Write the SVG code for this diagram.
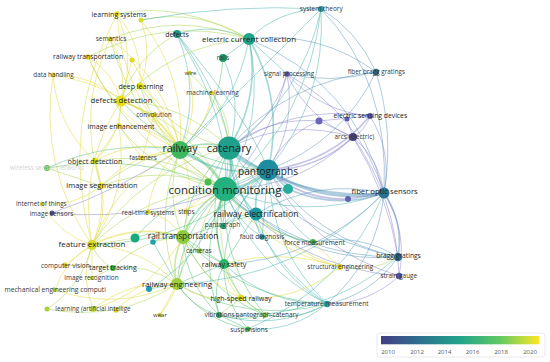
<svg xmlns="http://www.w3.org/2000/svg" width="550" height="362" viewBox="0 0 550 362">
<style>
.l{font-family:"Open Sans","Noto Sans",sans-serif;text-anchor:middle;fill:#1e1e1e}
.s{fill:#383838}
.f{fill:#d4d4d4}
#connectors path{fill:none;stroke-linecap:round}
.y{stroke:#e3dc45;stroke-opacity:.55}
.yg{stroke:#a9d34f;stroke-opacity:.5}
.g{stroke:#4dbd75;stroke-opacity:.48}
.t{stroke:#3aaea6;stroke-opacity:.46}
.b{stroke:#4b8fb3;stroke-opacity:.45}
.p{stroke:#7f7bc6;stroke-opacity:.45}
.w2{stroke-width:1.7}
.w3{stroke-width:2.8}
.tick{font-family:"Open Sans","Noto Sans",sans-serif;font-size:6px;fill:#555;text-anchor:middle}
</style>
<defs>
<linearGradient id="vir" x1="0" y1="0" x2="1" y2="0">
<stop offset="0" stop-color="#433e85"/>
<stop offset="0.25" stop-color="#2c718e"/>
<stop offset="0.5" stop-color="#21a38b"/>
<stop offset="0.75" stop-color="#5ec962"/>
<stop offset="1" stop-color="#fde725"/>
</linearGradient>
</defs>
<rect width="550" height="362" fill="#fff"/>
<g id="connectors" stroke-width="1">
<path class="t w3" d="M225 189Q235.2 169.3 229 148"/>
<path class="t w3" d="M225 189Q250.3 188.1 268 170"/>
<path class="g w3" d="M225 189Q210.3 160.5 180 150"/>
<path class="t w3" d="M229 148Q244.1 166.8 268 170"/>
<path class="g w2" d="M229 148Q204.1 139.2 180 150"/>
<path class="t w2" d="M180 150Q220 177.6 268 170"/>
<path class="t w2" d="M225 189Q235.5 207.7 256 214"/>
<path class="t w2" d="M229 148Q229.3 186.4 256 214"/>
<path class="t w2" d="M268 170Q253.2 189.6 256 214"/>
<path class="t w2" d="M229 148Q260.8 97.5 249 39"/>
<path class="t w2" d="M268 170Q284.7 100.7 249 39"/>
<path class="t" d="M225 189Q267 118.8 249 39"/>
<path class="t" d="M180 150Q236.7 108.3 249 39"/>
<path class="g w2" d="M225 189Q194.4 204.6 183 237"/>
<path class="yg" d="M180 150Q164.1 194.1 183 237"/>
<path class="g" d="M229 148Q188.2 183.3 183 237"/>
<path class="g" d="M225 189Q182 226.9 177 284"/>
<path class="yg" d="M180 150Q151.7 216.4 177 284"/>
<path class="g w2" d="M225 189Q209.5 226.3 224 264"/>
<path class="g" d="M229 148Q203.3 205 224 264"/>
<path class="t" d="M268 170Q227.2 208.2 224 264"/>
<path class="yg" d="M225 189Q147.3 190.4 92 245"/>
<path class="y" d="M180 150Q117 179.9 92 245"/>
<path class="y w2" d="M180 150Q160.3 113.7 121 101"/>
<path class="yg" d="M225 189Q190.6 124.2 121 101"/>
<path class="yg" d="M229 148Q184.4 102.9 121 101"/>
<path class="b w3" d="M268 170Q321.4 204.7 384 193"/>
<path class="t" d="M225 189Q303.7 222.8 384 193"/>
<path class="b w2" d="M229 148Q297.5 201.5 384 193"/>
<path class="b w2" d="M288 189Q335.2 210.2 384 193"/>
<path class="b" d="M268 170Q315.6 239.5 398 257"/>
<path class="b" d="M229 148Q291.7 236.3 398 257"/>
<path class="b w2" d="M384 193Q403.8 222.2 398 257"/>
<path class="p" d="M384 193Q408.1 231.5 399 276"/>
<path class="p" d="M268 170Q312.3 249.2 399 276"/>
<path class="t" d="M225 189Q253 266.9 327 304"/>
<path class="t" d="M268 170Q270.7 248.8 327 304"/>
<path class="b" d="M327 304Q377.7 259.9 384 193"/>
<path class="t" d="M229 148Q302.8 96.9 321 9"/>
<path class="t" d="M268 170Q326.7 100.1 321 9"/>
<path class="t" d="M249 39Q279 9.6 321 9"/>
<path class="t" d="M225 189Q309 118.2 321 9"/>
<path class="b" d="M249 39Q355 82.3 384 193"/>
<path class="b" d="M249 39Q319.1 30.1 376 72"/>
<path class="b" d="M229 148Q287.3 80.6 376 72"/>
<path class="b" d="M268 170Q341.6 142.6 376 72"/>
<path class="b" d="M376 72Q394.5 131.5 384 193"/>
<path class="p" d="M268 170Q296.7 125.8 287 74"/>
<path class="p" d="M229 148Q272.8 122.6 287 74"/>
<path class="p w2" d="M268 170Q329.8 163.4 370 116"/>
<path class="p w2" d="M268 170Q317.1 170.5 353 137"/>
<path class="p" d="M229 148Q288.8 117.7 353 137"/>
<path class="p" d="M225 189Q299.4 188.6 353 137"/>
<path class="p" d="M229 148Q293.1 103.8 370 116"/>
<path class="p" d="M353 137Q365.7 130 370 116"/>
<path class="p" d="M353 137Q379.7 158.8 384 193"/>
<path class="p" d="M370 116Q392.4 151.7 384 193"/>
<path class="p" d="M319 121Q283.7 135.3 268 170"/>
<path class="p" d="M319 121Q268.6 116.5 229 148"/>
<path class="p" d="M353 137Q396.9 199.6 399 276"/>
<path class="p" d="M353 137Q387.5 192.5 398 257"/>
<path class="p" d="M287 74Q320.1 111.6 370 116"/>
<path class="p" d="M287 74Q307.4 118.7 353 137"/>
<path class="p" d="M287 74Q359.3 114.1 384 193"/>
<path class="p w2" d="M268 170Q302.2 200.5 348 199"/>
<path class="t w2" d="M225 189Q256.5 198.5 288 189"/>
<path class="b" d="M256 214Q315.8 177.9 384 193"/>
<path class="g" d="M256 214Q278.9 239.4 313 242"/>
<path class="g" d="M225 189Q258.4 233.1 313 242"/>
<path class="t" d="M268 170Q276.1 215 313 242"/>
<path class="t" d="M256 214Q273.5 273.2 327 304"/>
<path class="y" d="M225 189Q266.9 251 340 267"/>
<path class="y" d="M224 264Q282.5 248.1 340 267"/>
<path class="b" d="M313 242Q358.5 232.5 398 257"/>
<path class="p" d="M327 304Q368.6 304.4 399 276"/>
<path class="b" d="M327 304Q371.9 294.7 398 257"/>
<path class="yg" d="M340 267Q371 273.6 398 257"/>
<path class="t" d="M224 264Q267.5 304.6 327 304"/>
<path class="g" d="M177 284Q248 324 327 304"/>
<path class="g" d="M183 237Q241.6 299.3 327 304"/>
<path class="t" d="M219 315Q275.2 331.1 327 304"/>
<path class="g" d="M265 315Q298.2 321.9 327 304"/>
<path class="t" d="M248 329Q292.5 332.3 327 304"/>
<path class="g" d="M225 189Q219.8 260 265 315"/>
<path class="g" d="M224 264Q234.3 297.7 265 315"/>
<path class="g" d="M224 264Q211.3 288.5 219 315"/>
<path class="g" d="M224 264Q223 301.3 248 329"/>
<path class="g" d="M177 284Q191.8 307.9 219 315"/>
<path class="g" d="M183 237Q185.4 283.2 219 315"/>
<path class="g" d="M225 189Q196.8 250.8 219 315"/>
<path class="y" d="M183 237Q199.8 279.1 241 298"/>
<path class="y" d="M177 284Q206.2 303.8 241 298"/>
<path class="y" d="M224 264Q225.7 284.4 241 298"/>
<path class="yg" d="M225 189Q211.2 246.7 241 298"/>
<path class="g" d="M177 284Q203.5 320.7 248 329"/>
<path class="t" d="M225 189Q216.6 207.1 223 226"/>
<path class="t" d="M256 214Q237.1 213.4 223 226"/>
<path class="t" d="M225 189Q233.9 220.4 262 237"/>
<path class="t" d="M256 214Q254.4 225.7 262 237"/>
<path class="yg" d="M183 237Q188.2 247.2 199 251"/>
<path class="yg" d="M225 189Q199.6 214.8 199 251"/>
<path class="y" d="M225 189Q200.9 192.7 186 212"/>
<path class="y" d="M183 237Q189.5 225 186 212"/>
<path class="y" d="M183 237Q170.5 217.5 148 212"/>
<path class="y" d="M180 150Q151.6 174.6 148 212"/>
<path class="g" d="M183 237Q159.2 227.9 135 238"/>
<path class="t" d="M183 237Q167 234 153 242"/>
<path class="g" d="M225 189Q170.2 195.5 135 238"/>
<path class="g" d="M225 189L208 182"/>
<path class="yg w2" d="M183 237Q170.6 259.3 177 284"/>
<path class="t" d="M177 284L149 289"/>
<path class="yg" d="M183 237Q141.8 238.5 113 268"/>
<path class="yg" d="M177 284Q148.2 263.2 113 268"/>
<path class="yg" d="M92 245Q97.9 260.7 113 268"/>
<path class="y" d="M177 284Q142.3 247.5 92 245"/>
<path class="y w2" d="M183 237Q135.9 222.8 92 245"/>
<path class="y" d="M177 284Q130 279.7 93 309"/>
<path class="y" d="M177 284Q141.3 284.8 116 310"/>
<path class="yg" d="M177 284Q117 322.5 47 309"/>
<path class="y" d="M92 245Q79.7 277.2 93 309"/>
<path class="y" d="M92 245L65 265"/>
<path class="y" d="M92 245L92 278"/>
<path class="y" d="M92 245Q64.5 260.1 55 290"/>
<path class="y" d="M92 245Q108.3 217.3 101 186"/>
<path class="y" d="M101 186L95 161"/>
<path class="y" d="M95 161Q120 136.2 121 101"/>
<path class="y" d="M121 101L140 86"/>
<path class="y" d="M121 101L119 126"/>
<path class="y" d="M121 101L154 115"/>
<path class="y" d="M121 101Q113.3 72.4 88 57"/>
<path class="y" d="M121 101Q127.9 67.8 110 39"/>
<path class="y" d="M121 101Q136.4 56.7 117 14"/>
<path class="y" d="M140 86Q142.9 45.4 117 14"/>
<path class="y" d="M140 86Q153.7 53.2 141 20"/>
<path class="y" d="M180 150Q172.8 110 140 86"/>
<path class="y" d="M180 150Q186.5 77.2 141 20"/>
<path class="y" d="M180 150Q167.2 80.5 110 39"/>
<path class="y" d="M180 150Q154.3 125.8 119 126"/>
<path class="y" d="M180 150Q135.3 138.5 95 161"/>
<path class="y" d="M180 150L142 158"/>
<path class="y" d="M180 150L154 115"/>
<path class="y" d="M180 150Q133.3 152.2 101 186"/>
<path class="yg" d="M225 189Q162.4 162.7 101 186"/>
<path class="yg" d="M225 189Q165.6 149 95 161"/>
<path class="y" d="M180 150Q131.5 87.1 53 75"/>
<path class="y" d="M121 101Q92.2 74.4 53 75"/>
<path class="y" d="M88 57Q115.4 121.9 180 150"/>
<path class="y" d="M53 75Q56.8 126.4 95 161"/>
<path class="y" d="M53 75Q38.5 167.8 92 245"/>
<path class="y" d="M117 14Q58.3 124.5 92 245"/>
<path class="y" d="M110 39Q76.1 110.7 101 186"/>
<path class="y" d="M180 150Q199.9 113.3 189 73"/>
<path class="y" d="M180 150Q207.4 127.9 212 93"/>
<path class="yg" d="M229 148Q231.5 117.1 212 93"/>
<path class="yg" d="M229 148Q224 102.5 189 73"/>
<path class="t" d="M229 148Q244 101.8 223 58"/>
<path class="g" d="M180 150Q219.9 112.6 223 58"/>
<path class="t" d="M249 39L223 58"/>
<path class="t" d="M249 39Q214 22.1 177 34"/>
<path class="t" d="M177 34Q201.7 92.6 180 150"/>
<path class="t" d="M177 34Q232 121.1 225 189"/>
<path class="t" d="M177 34Q225.8 101.4 229 148"/>
<path class="yg" d="M177 34Q135.6 56.3 121 101"/>
<path class="t" d="M177 34Q249.7 120.2 268 170"/>
<path class="yg" d="M249 39Q172.6 44.4 121 101"/>
<path class="yg" d="M249 39Q178 0.1 117 14"/>
<path class="yg" d="M141 20Q198.8 7.9 249 39"/>
<path class="t" d="M321 9Q278.7 51.3 180 150"/>
<path class="y" d="M148 212Q191.1 215.9 225 189"/>
<path class="y" d="M186 212Q195.4 179.8 180 150"/>
<path class="y" d="M42 204Q58.8 234.5 92 245"/>
<path class="y" d="M42 204Q75.1 206.8 101 186"/>
<path class="p" d="M52 213Q166.5 223.9 268 170"/>
<path class="p" d="M52 213Q120 190 180 150"/>
<path class="g" d="M47 168Q110.8 139 180 150"/>
<path class="g" d="M47 168Q139.2 151.8 225 189"/>
<path class="yg" d="M47 168L101 186"/>
<path class="yg" d="M47 309Q82.3 286 92 245"/>
<path class="yg" d="M65 265L113 268"/>
<path class="yg" d="M92 278L113 268"/>
<path class="y" d="M55 290Q117.2 311.4 177 284"/>
<path class="y" d="M93 309Q152.4 291 183 237"/>
<path class="y" d="M160 315L177 284"/>
<path class="y" d="M160 315Q187.1 280.6 183 237"/>
<path class="t" d="M149 289Q207 254.2 225 189"/>
<path class="g" d="M199 251L224 264"/>
<path class="y" d="M92 245Q129.3 190.9 119 126"/>
<path class="y" d="M95 161L119 126"/>
<path class="y" d="M119 126L142 158"/>
<path class="y" d="M154 115L142 158"/>
<path class="y" d="M92 245Q110.3 203.6 95 161"/>
<path class="y" d="M121 101Q77.7 167.2 92 245"/>
<path class="y" d="M132 60L180 150"/>
<path class="y" d="M132 60L121 101"/>
<path class="g" d="M268 170Q212.1 186.5 183 237"/>
<path class="g" d="M268 170Q199.7 208.8 177 284"/>
<path class="t w2" d="M268 170L288 189"/>
<path class="g" d="M229 148L208 182"/>
<path class="t" d="M268 170L223 226"/>
<path class="t" d="M268 170L262 237"/>
<path class="t" d="M229 148L223 226"/>
<path class="g" d="M256 214L224 264"/>
<path class="g" d="M256 214L183 237"/>
<path class="b" d="M256 214Q318.4 263.9 398 257"/>
<path class="b" d="M225 189Q297.9 257.6 398 257"/>
<path class="p" d="M225 189Q294.6 267.3 399 276"/>
<path class="t" d="M229 148Q246.8 245.6 327 304"/>
<path class="yg" d="M92 245Q141.1 169.1 229 148"/>
<path class="g" d="M92 245Q195 242.7 268 170"/>
<path class="yg" d="M101 186Q157.4 141.4 229 148"/>
<path class="g" d="M121 101Q180.7 164.9 268 170"/>
<path class="yg" d="M140 86Q172.1 134.8 229 148"/>
<path class="yg" d="M140 86Q161.9 154.5 225 189"/>
<path class="yg" d="M119 126Q159.4 178.7 225 189"/>
<path class="y" d="M117 14Q121.3 94.6 180 150"/>
<path class="yg" d="M110 39Q137.5 137 225 189"/>
<path class="yg" d="M88 57Q130.1 150.4 225 189"/>
<path class="t" d="M287 74L249 39"/>
<path class="p" d="M370 116L319 121"/>
<path class="p" d="M319 121L353 137"/>
<path class="p" d="M347 119L353 137"/>
<path class="p w2" d="M348 199L384 193"/>
<path class="yg" d="M241 298L219 315"/>
<path class="yg" d="M241 298L265 315"/>
<path class="g" d="M265 315Q242 322 219 315"/>
<path class="g" d="M248 329L219 315"/>
<path class="g" d="M224 264L177 284"/>
<path class="g" d="M183 237L224 264"/>
<path class="yg" d="M135 238L92 245"/>
<path class="t" d="M153 242L177 284"/>
<path class="g" d="M183 237Q208.4 292.4 265 315"/>
<path class="b" d="M224 264Q318.2 260.5 384 193"/>
<path class="t" d="M248 329Q343.2 288.2 384 193"/>
<path class="t" d="M219 315Q320.1 321.8 398 257"/>
<path class="t" d="M177 284Q298.7 279.9 384 193"/>
<path class="yg" d="M249 39Q179.5 11.2 110 39"/>
<path class="yg" d="M249 39Q164.9 15.8 88 57"/>
<path class="t" d="M321 9Q230.3 3.7 141 20"/>
<path class="y" d="M241 298Q296.7 302.3 340 267"/>
<path class="y" d="M313 242L340 267"/>
<path class="y" d="M256 214Q291 252 340 267"/>
<path class="b" d="M376 72Q357 30 321 9"/>
<path class="b" d="M376 72Q331 84 287 74"/>
<path class="p" d="M225 189Q270 140 287 74"/>
<path class="b" d="M384 193Q390 80 321 9"/>
</g>
<g id="n-rail-transportation-2"><circle cx="132" cy="60" r="2.5" fill="#e5d81f"/></g>
<g id="n-learning-systems-2"><circle cx="141" cy="20" r="2.5" fill="#d9d92c"/></g>
<g id="n-electric-sensing-2"><circle cx="347" cy="119" r="2.5" fill="#5c5aae"/></g>
<g id="n-unlabeled-319"><circle cx="319" cy="121" r="3.5" fill="#6c66b8"/></g>
<g id="n-unlabeled-348"><circle cx="348" cy="199" r="3" fill="#5e62b2"/></g>
<g id="n-unlabeled-288"><circle cx="288" cy="189" r="5" fill="#27ae9b"/></g>
<g id="n-unlabeled-208"><circle cx="208" cy="182" r="3.5" fill="#49bb52"/></g>
<g id="n-unlabeled-135"><circle cx="135" cy="238" r="4.5" fill="#1aa97a"/></g>
<g id="n-unlabeled-153"><circle cx="153" cy="242" r="2.8" fill="#20a3ad"/></g>
<g id="n-unlabeled-149"><circle cx="149" cy="289" r="3" fill="#1f9bb3"/></g>
<g id="n-unlabeled-imc"><circle cx="47" cy="309" r="2.5" fill="#a7d236"/></g>
<g id="n-learning-ai-2"><circle cx="116" cy="310" r="2.8" fill="#e0d11f"/></g>
<g id="n-wireless-sensor-networks"><circle cx="47" cy="168" r="3" fill="#5ec03e"/><text class="l f" x="47" y="170.2" font-size="6.3">wireless sensor networks</text></g>
<g id="n-learning-systems"><circle cx="117" cy="14" r="2.8" fill="#ebdf1c"/><text class="l" x="119" y="16.5" font-size="7">learning systems</text></g>
<g id="n-semantics"><circle cx="110" cy="39" r="2.5" fill="#ebdf1c"/><text class="l s" x="111" y="41.3" font-size="6.5">semantics</text></g>
<g id="n-railway-transportation"><circle cx="88" cy="57" r="2.8" fill="#ebdf1c"/><text class="l" x="88" y="59.4" font-size="6.8">railway transportation</text></g>
<g id="n-data-handling"><circle cx="53" cy="75" r="2.5" fill="#ebdf1c"/><text class="l s" x="53.5" y="77.3" font-size="6.3">data handling</text></g>
<g id="n-deep-learning"><circle cx="140" cy="86" r="3.5" fill="#ebdf1c"/><text class="l" x="141" y="88.5" font-size="7">deep learning</text></g>
<g id="n-defects-detection"><circle cx="121" cy="101" r="5.5" fill="#e9dd1c"/><text class="l" x="121.5" y="102.7" font-size="7.7">defects detection</text></g>
<g id="n-convolution"><circle cx="154" cy="115" r="2.5" fill="#e3d91f"/><text class="l s" x="154" y="117.3" font-size="6.5">convolution</text></g>
<g id="n-image-enhancement"><circle cx="119" cy="126" r="2.8" fill="#ebdf1c"/><text class="l" x="121" y="128.5" font-size="7">image enhancement</text></g>
<g id="n-object-detection"><circle cx="95" cy="161" r="3.2" fill="#ebdf1c"/><text class="l" x="95" y="163.5" font-size="7.3">object detection</text></g>
<g id="n-fasteners"><circle cx="142" cy="158" r="2.5" fill="#e3d91f"/><text class="l s" x="143" y="160.2" font-size="6.3">fasteners</text></g>
<g id="n-defects"><circle cx="177" cy="34" r="4" fill="#1e998d"/><text class="l" x="177" y="36.5" font-size="7">defects</text></g>
<g id="n-rails"><circle cx="223" cy="58" r="4" fill="#1d9a66"/><text class="l s" x="223" y="60.2" font-size="6.4">rails</text></g>
<g id="n-wire"><circle cx="189" cy="73" r="2.3" fill="#e3d91f"/><text class="l s" x="190.5" y="75.1" font-size="6">wire</text></g>
<g id="n-machine-learning"><circle cx="212" cy="93" r="2.3" fill="#e3d91f"/><text class="l s" x="212.5" y="95.3" font-size="6.5">machine learning</text></g>
<g id="n-signal-processing"><circle cx="287" cy="74" r="2.8" fill="#5a55a8"/><text class="l s" x="289" y="76.2" font-size="6.3">signal processing</text></g>
<g id="n-system-theory"><circle cx="321" cy="9" r="3" fill="#22978f"/><text class="l s" x="321.3" y="11.3" font-size="6.5">system theory</text></g>
<g id="n-fiber-bragg-gratings"><circle cx="376" cy="72" r="3.2" fill="#2f688e"/><text class="l s" x="376.3" y="74.2" font-size="6.3">fiber bragg gratings</text></g>
<g id="n-electric-sensing-devices"><circle cx="370" cy="116" r="3" fill="#5f5bb0"/><text class="l" x="370.3" y="118.4" font-size="6.8">electric sensing devices</text></g>
<g id="n-arcs-electric"><circle cx="353" cy="137" r="4" fill="#463f86"/><text class="l s" x="354.3" y="139.3" font-size="6.5">arcs (electric)</text></g>
<g id="n-image-segmentation"><circle cx="101" cy="186" r="3.2" fill="#ebdf1c"/><text class="l" x="102" y="187.6" font-size="7.5">image segmentation</text></g>
<g id="n-internet-of-things"><circle cx="42" cy="204" r="2.3" fill="#d8d92c"/><text class="l s" x="41.3" y="206.2" font-size="6.3">internet of things</text></g>
<g id="n-image-sensors"><circle cx="52" cy="213" r="2.5" fill="#4c4a9b"/><text class="l s" x="51.5" y="215.6" font-size="6.5">image sensors</text></g>
<g id="n-real-time-systems"><circle cx="148" cy="212" r="2.5" fill="#d9d62a"/><text class="l s" x="148" y="214.5" font-size="6.4">real-time systems</text></g>
<g id="n-strips"><circle cx="186" cy="212" r="2.5" fill="#dfd41f"/><text class="l s" x="186.3" y="214.2" font-size="6.3">strips</text></g>
<g id="n-pantograph"><circle cx="223" cy="226" r="3" fill="#24a78c"/><text class="l s" x="222.5" y="227.3" font-size="6.5">pantograph</text></g>
<g id="n-fault-diagnosis"><circle cx="262" cy="237" r="2.8" fill="#1f9295"/><text class="l s" x="262" y="239" font-size="6.6">fault diagnosis</text></g>
<g id="n-force-measurement"><circle cx="313" cy="242" r="3" fill="#3eb250"/><text class="l s" x="314.5" y="244.6" font-size="6.6">force measurement</text></g>
<g id="n-cameras"><circle cx="199" cy="251" r="2.5" fill="#9fcf3b"/><text class="l s" x="198.8" y="253" font-size="6.5">cameras</text></g>
<g id="n-computer-vision"><circle cx="65" cy="265" r="2.5" fill="#d9d62a"/><text class="l s" x="65.3" y="267.6" font-size="6.5">computer vision</text></g>
<g id="n-target-tracking"><circle cx="113" cy="268" r="3" fill="#43b84a"/><text class="l" x="113" y="270.3" font-size="7">target tracking</text></g>
<g id="n-image-recognition"><circle cx="92" cy="278" r="2.3" fill="#d9d62a"/><text class="l s" x="91.5" y="280.2" font-size="6.5">image recognition</text></g>
<g id="n-mechanical-engineering"><circle cx="55" cy="290" r="2.3" fill="#d9d62a"/><text class="l s" x="55.2" y="292.3" font-size="6.7">mechanical engineering computi</text></g>
<g id="n-learning-ai"><circle cx="93" cy="309" r="3" fill="#dcd72a"/><text class="l s" x="93" y="311" font-size="6.3">learning (artificial intellige</text></g>
<g id="n-wear"><circle cx="160" cy="315" r="2.3" fill="#d7d62a"/><text class="l s" x="160" y="317.4" font-size="6">wear</text></g>
<g id="n-vibrations"><circle cx="219" cy="315" r="3" fill="#1fa862"/><text class="l s" x="219.5" y="317.3" font-size="6.5">vibrations</text></g>
<g id="n-pantograph-catenary"><circle cx="265" cy="315" r="2.8" fill="#8bc53f"/><text class="l s" x="267" y="317.3" font-size="6.4">pantograph-catenary</text></g>
<g id="n-suspensions"><circle cx="248" cy="329" r="2.5" fill="#3fb34b"/><text class="l s" x="249" y="331.6" font-size="6.5">suspensions</text></g>
<g id="n-high-speed-railway"><circle cx="241" cy="298" r="3.2" fill="#e6d81f"/><text class="l" x="241" y="300.5" font-size="7">high-speed railway</text></g>
<g id="n-structural-engineering"><circle cx="340" cy="267" r="3" fill="#e6d81f"/><text class="l s" x="340.3" y="269" font-size="6.4">structural engineering</text></g>
<g id="n-strain-gauge"><circle cx="399" cy="276" r="3.2" fill="#57509d"/><text class="l s" x="398.8" y="278" font-size="6.4">strain gauge</text></g>
<g id="n-temperature-measurement"><circle cx="327" cy="304" r="3.2" fill="#21a099"/><text class="l s" x="326.7" y="306" font-size="6.6">temperature measurement</text></g>
<g id="n-bragg-gratings"><circle cx="398" cy="257" r="4.2" fill="#2d6e90"/><text class="l" x="398.5" y="258.3" font-size="6.7">bragg gratings</text></g>
<g id="n-railway-safety"><circle cx="224" cy="264" r="5" fill="#2cb46a"/><text class="l" x="224" y="266.5" font-size="7">railway safety</text></g>
<g id="n-railway-engineering"><circle cx="177" cy="284" r="6" fill="#9fcf3b"/><text class="l" x="177" y="286.7" font-size="7.7">railway engineering</text></g>
<g id="n-feature-extraction"><circle cx="92" cy="245" r="5" fill="#d6da2a"/><text class="l" x="92" y="247" font-size="8">feature extraction</text></g>
<g id="n-rail-transportation"><circle cx="183" cy="237" r="7" fill="#8dcc3d"/><text class="l" x="183" y="239" font-size="8.3">rail transportation</text></g>
<g id="n-fiber-optic-sensors"><circle cx="384" cy="193" r="5.5" fill="#2c7192"/><text class="l" x="384.7" y="194.4" font-size="7.7">fiber optic sensors</text></g>
<g id="n-electric-current-collection"><circle cx="249" cy="39" r="6" fill="#1fa38a"/><text class="l" x="249" y="42" font-size="8">electric current collection</text></g>
<g id="n-railway-electrification"><circle cx="256" cy="214" r="6.5" fill="#1c98a2"/><text class="l" x="256" y="217" font-size="8.6">railway electrification</text></g>
<g id="n-railway"><circle cx="180" cy="150" r="9" fill="#3cb95c"/><text class="l" x="180" y="152" font-size="10.6">railway</text></g>
<g id="n-catenary"><circle cx="229" cy="148" r="11.5" fill="#1fa08b"/><text class="l" x="229" y="152" font-size="11">catenary</text></g>
<g id="n-pantographs"><circle cx="268" cy="170" r="10.5" fill="#1e8c9e"/><text class="l" x="268" y="174.5" font-size="10.1">pantographs</text></g>
<g id="n-condition-monitoring"><circle cx="225" cy="189" r="12" fill="#25b07f"/><text class="l" x="225" y="193.5" font-size="11.5">condition monitoring</text></g>
<g id="legend">
<rect x="377" y="333" width="168" height="24" rx="3" fill="#fff" stroke="#e2e2e2" stroke-width="0.8"/>
<rect x="381" y="336" width="158" height="8.3" fill="url(#vir)"/>
<text class="tick" x="388" y="354.3">2010</text>
<text class="tick" x="417" y="354.3">2012</text>
<text class="tick" x="444.5" y="354.3">2014</text>
<text class="tick" x="472.5" y="354.3">2016</text>
<text class="tick" x="501" y="354.3">2018</text>
<text class="tick" x="530" y="354.3">2020</text>
</g>
</svg>
